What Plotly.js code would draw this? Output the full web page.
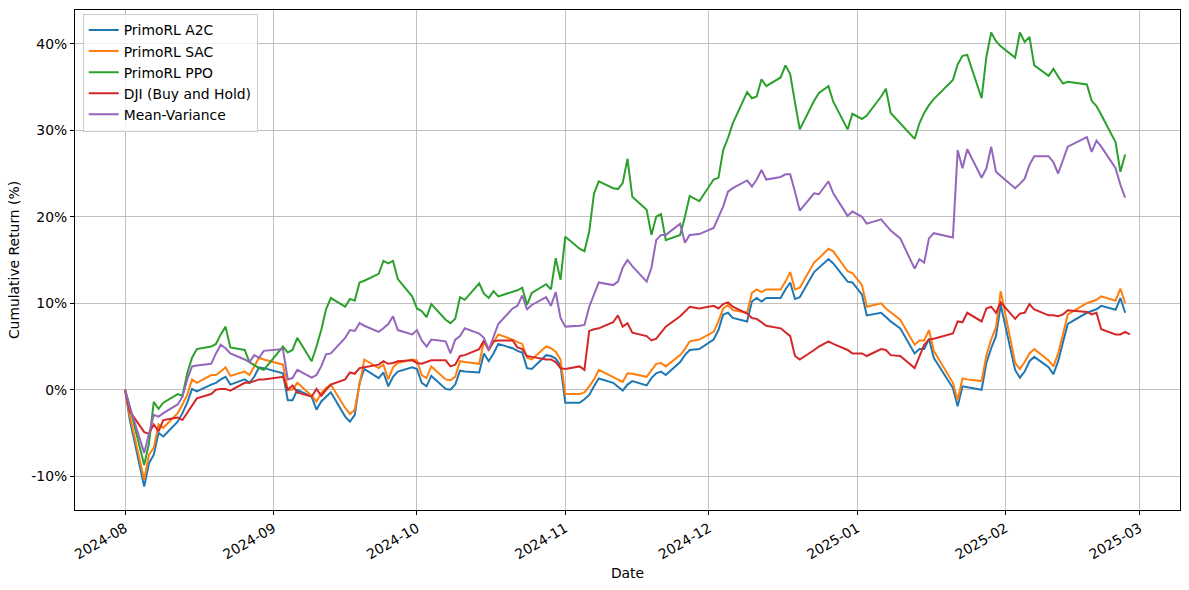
<!DOCTYPE html>
<html>
<head>
<meta charset="utf-8">
<script src="https://cdn.plot.ly/plotly-3.0.1.min.js"></script>
<style>
  html, body { margin: 0; padding: 0; background: #fff; }
  #chart { width: 1189px; height: 590px; }
</style>
</head>
<body>
<div id="chart"></div>
<script>
// trading days per month (one point per session)
var aug24 = [1,2,5,6,7,8,9,12,13,14,15,16,19,20,21,22,23,26,27,28,29,30]
var sep24 = [3,4,5,6,9,10,11,12,13,16,17,18,19,20,23,24,25,26,27,30]
var oct24 = [1,2,3,4,7,8,9,10,11,14,15,16,17,18,21,22,23,24,25,28,29,30,31]
var nov24 = [1,4,5,6,7,8,11,12,13,14,15,18,19,20,21,22,25,26,27,29]
var dec24 = [2,3,4,5,6,9,10,11,12,13,16,17,18,19,20,23,24,26,27,30,31]
var jan25 = [2,3,6,7,8,10,13,14,15,16,17,21,22,23,24,27,28,29,30,31]
var feb25 = [3,4,5,6,7,10,11,12,13,14,18,19,20,21,24,25,26]
var djiExtraDay = '2025-02-27'

// cumulative return in %, one value per trading day above
var a2c = [
  0,-3.5,-11.2,-8.5,-7.5,-5.0,-5.4,-3.7,-2.7,-1.5,0.1,-0.2,0.6,0.8,1.2,1.5,0.6,1.2,0.8,1.5,2.6,2.5,
  1.9,-1.2,-1.2,0.0,-0.8,-2.3,-1.35,-0.8,-0.3,-3.1,-3.7,-2.9,0.8,2.4,1.35,2.0,0.4,1.5,2.1,2.6,
  2.4,0.8,0.4,1.6,0.1,0.0,0.6,2.2,2.1,2.0,4.2,3.3,4.2,5.3,4.8,4.5,4.3,2.5,2.4,4.0,3.9,3.6,2.8,
  -1.5,-1.5,-1.1,-0.6,0.4,1.3,0.8,0.4,-0.1,0.6,1.0,0.5,1.35,1.9,2.1,1.7,3.2,4.0,4.6,4.7,
  5.8,6.9,8.7,8.9,8.3,7.9,10.2,10.6,10.2,10.6,10.6,11.6,12.4,10.5,10.7,13.6,14.1,15.1,14.6,12.5,12.4,
  11.0,8.6,8.9,8.4,7.9,7.1,4.2,4.7,4.7,5.9,3.7,0.2,-1.9,0.4,0.3,0.0,3.1,4.8,6.2,9.8,
  2.3,1.4,2.1,3.3,3.8,2.6,1.8,3.3,5.5,7.6,8.9,9.1,9.3,9.7,9.25,10.6,8.9
]
var sac = [
  0,-3.0,-10.4,-7.5,-6.7,-4.0,-4.4,-2.7,-1.7,-0.6,1.2,0.8,1.7,1.7,2.1,2.6,1.6,2.1,1.7,2.7,3.7,3.5,
  2.9,0.0,0.0,0.8,-0.7,-1.35,-0.4,0.2,0.6,-2.1,-2.8,-2.3,0.8,3.5,2.5,2.9,1.2,2.6,3.1,3.5,
  3.4,1.7,1.35,2.7,1.2,1.1,1.5,3.3,3.2,3.0,5.6,4.6,5.5,6.4,5.8,5.5,5.3,3.7,3.5,5.0,4.8,4.4,3.5,
  -0.5,-0.5,-0.3,0.4,1.2,2.3,1.5,1.2,0.9,1.9,1.85,1.5,2.3,3.0,3.1,2.7,4.0,4.7,5.6,5.8,
  6.7,7.9,9.4,9.8,9.2,8.9,11.2,11.6,11.3,11.6,11.6,12.5,13.6,11.6,11.8,14.7,15.2,16.3,16.0,13.7,13.5,
  12.1,9.6,10.0,9.4,9.0,8.1,5.2,5.7,5.7,6.9,4.5,0.8,-1.2,1.3,1.2,1.0,4.0,5.8,7.2,11.4,
  3.1,2.4,3.2,4.2,4.7,3.4,2.7,4.2,6.4,8.7,10.0,10.2,10.4,10.8,10.3,11.7,10.0
]
var ppo = [
  0,-2.0,-8.7,-6.2,-1.4,-2.2,-1.5,-0.5,-0.7,1.9,3.7,4.7,5.0,5.3,6.4,7.3,4.9,4.6,3.2,2.8,2.5,2.3,
  5.0,4.3,4.6,6.0,3.3,5.0,6.9,9.3,10.6,9.6,10.5,10.3,12.4,12.6,13.4,14.9,14.6,14.9,12.8,10.8,
  9.4,9.1,8.4,9.9,8.1,7.7,8.2,10.7,10.4,12.3,11.1,10.6,11.4,10.8,11.3,11.5,11.8,9.8,11.2,12.2,11.6,15.2,12.7,
  17.7,16.3,16.0,18.3,22.7,24.1,23.3,23.2,23.9,26.7,22.3,20.8,17.9,20.0,20.3,17.3,17.9,20.0,22.4,21.8,
  24.3,24.5,27.7,29.1,30.8,34.4,33.7,33.9,35.9,35.1,36.1,37.5,36.5,33.2,30.1,33.4,34.3,35.1,33.3,30.1,31.9,
  31.3,31.7,33.9,34.8,32.0,30.8,29.0,30.8,32.0,32.9,33.6,35.8,37.6,38.6,38.7,33.7,38.5,41.3,40.3,39.7,
  38.4,41.3,40.2,40.8,37.5,36.3,37.1,36.2,35.4,35.6,35.3,33.4,32.8,31.8,28.6,25.2,27.2
]
var dji = [
  0,-2.5,-4.9,-5.1,-4.0,-4.8,-3.5,-3.2,-3.5,-2.7,-1.9,-1.0,-0.5,0.0,0.1,0.1,-0.1,0.8,0.8,1.0,1.2,1.2,
  1.5,0.0,0.5,-0.3,-0.8,0.1,-0.7,0.0,0.6,1.2,2.0,1.85,2.5,2.6,2.9,3.3,3.0,3.1,3.3,3.4,
  3.1,3.0,3.2,3.4,3.4,2.7,2.9,3.9,4.0,4.7,5.7,4.6,5.6,5.7,5.7,4.9,4.7,3.9,3.8,3.5,3.5,3.2,2.5,
  2.4,2.7,2.3,6.8,7.0,7.1,7.8,8.6,7.3,7.7,6.6,6.2,5.7,5.9,6.6,7.3,8.5,9.1,9.6,9.4,
  9.7,9.4,9.9,10.1,9.6,8.8,8.3,8.2,7.8,7.4,7.1,6.7,6.2,3.9,3.5,4.6,5.0,5.6,5.3,4.6,4.2,
  4.2,3.9,4.7,4.6,4.0,3.9,2.5,3.9,5.2,5.8,5.9,6.5,7.9,7.8,8.9,7.9,9.4,9.6,8.9,10.1,
  8.2,8.8,8.9,9.9,9.3,8.6,8.6,8.5,8.7,9.2,9.0,8.7,8.9,7.0,6.4,6.4,6.7,6.4
]
var meanVar = [
  0,-2.0,-7.3,-5.0,-2.9,-3.1,-2.7,-1.7,-0.8,1.2,2.7,2.8,3.0,4.2,5.2,4.8,4.2,3.5,3.2,4.0,3.7,4.5,
  4.7,1.2,1.35,2.3,1.4,1.7,2.7,4.1,4.2,6.0,6.9,6.8,7.7,7.4,6.7,7.1,7.6,8.5,6.9,6.4,
  6.9,5.7,5.0,5.8,5.6,4.2,5.8,6.2,7.1,6.5,6.0,4.6,6.2,7.6,9.4,9.7,10.9,9.3,9.8,10.7,9.7,11.3,8.3,
  7.3,7.4,7.5,9.6,11.1,12.4,12.1,12.5,14.1,15.0,14.3,12.5,14.1,17.3,17.9,17.9,19.2,17.0,17.9,18.0,
  18.7,20.0,21.2,22.9,23.3,24.2,23.5,24.3,25.4,24.3,24.6,24.9,24.9,22.9,20.7,22.7,22.6,24.1,22.7,20.1,20.6,
  20.0,19.2,19.7,19.1,18.4,17.5,14.0,15.1,14.7,17.5,18.1,17.6,27.7,25.6,27.8,24.5,25.6,28.1,25.2,24.7,
  23.3,23.8,24.4,26.0,27.0,27.0,26.3,25.0,26.6,28.1,29.2,27.5,28.8,28.1,25.6,23.7,22.2
]

var yTicks = [-10, 0, 10, 20, 30, 40]
var yTickText = ['-10%', '0%', '10%', '20%', '30%', '40%']

function days(y, m, list) {
    return list.map(function (d) { return y + '-' + m + '-' + (d < 10 ? '0' + d : '' + d) })
}
var dates = [].concat(
    days(2024, '08', aug24), days(2024, '09', sep24), days(2024, '10', oct24),
    days(2024, '11', nov24), days(2024, '12', dec24), days(2025, '01', jan25),
    days(2025, '02', feb25))
var djiDates = dates.concat([djiExtraDay])

var font = 'DejaVu Sans'
var fontsize = 13.9

function line(name, x, y, color) {
    return {
        type: 'scatter', mode: 'lines', name: name,
        x: x, y: y,
        line: { color: color, width: 2 }
    }
}

var data = [
    line('PrimoRL A2C', dates, a2c, '#1f77b4'),
    line('PrimoRL SAC', dates, sac, '#ff7f0e'),
    line('PrimoRL PPO', dates, ppo, '#2ca02c'),
    line('DJI (Buy and Hold)', djiDates, dji, '#d62728'),
    line('Mean-Variance', dates, meanVar, '#9467bd')
]

var layout = {
    width: 1189,
    height: 590,
    margin: { l: 75, r: 9, t: 10, b: 80 },
    paper_bgcolor: '#ffffff',
    plot_bgcolor: '#ffffff',
    font: { family: font, size: fontsize, color: '#000000' },
    showlegend: true,
    legend: {
        x: 0.007, y: 0.993, xanchor: 'left', yanchor: 'top',
        bgcolor: 'rgba(255,255,255,0.8)',
        bordercolor: '#cccccc', borderwidth: 1,
        font: { family: font, size: fontsize },
        itemwidth: 30,
        tracegroupgap: 0
    },
    xaxis: {
        type: 'date',
        range: ['2024-07-21 13:00', '2025-03-09 11:00'],
        tick0: '2024-08-01',
        dtick: 'M1',
        tickformat: '%Y-%m',
        tickangle: -30,
        ticks: 'outside', ticklen: 4, tickwidth: 1, tickcolor: '#000',
        showgrid: true, gridcolor: '#b0b0b0', gridwidth: 0.8,
        showline: true, linecolor: '#000', linewidth: 1, mirror: true,
        zeroline: false,
        title: { text: 'Date', font: { family: font, size: fontsize }, standoff: 6 }
    },
    yaxis: {
        range: [-13.9, 43.9],
        tickvals: yTicks,
        ticktext: yTickText,
        ticks: 'outside', ticklen: 4, tickwidth: 1, tickcolor: '#000',
        showgrid: true, gridcolor: '#b0b0b0', gridwidth: 0.8,
        showline: true, linecolor: '#000', linewidth: 1, mirror: true,
        zeroline: false,
        title: { text: 'Cumulative Return (%)', font: { family: font, size: fontsize }, standoff: 8 }
    }
}

Plotly.newPlot('chart', data, layout, { staticPlot: true })
</script>
</body>
</html>
